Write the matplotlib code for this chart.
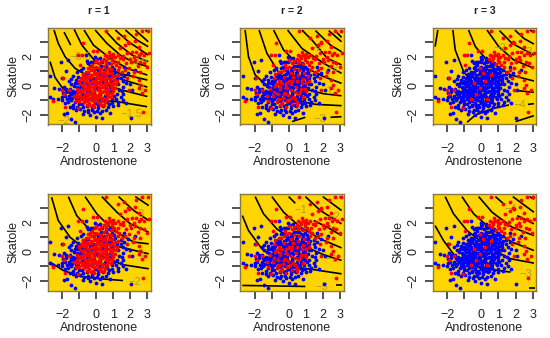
import matplotlib
matplotlib.use("Agg")
import matplotlib.pyplot as plt
import numpy as np

plt.rcParams["font.family"] = ["Liberation Sans", "DejaVu Sans"]

titles = ["r = 1", "r = 2", "r = 3"]
x_ticks = [-2, -1, 0, 1, 2, 3]
x_labels = ["\u22122", "", "0", "1", "2", "3"]
y_ticks = [-2, -1, 0, 1, 2, 3]
y_labels = ["\u22122", "", "0", "", "2", ""]

# always blue
blue_pts = [(-2.69, .67), (-2.06, 1.6), (-1.63, 1.77), (-1.79, 1.03), (-1.98, .55), (-2.45, -.18),
            (-2.7, -.8), (-2.53, -.94), (-2.25, -.94), (-2.2, -.25), (-1.98, -.76), (-1.82, -1.22),
            (-1.86, -1.95), (-1.69, -1.91), (-1.47, -2.3), (-1.24, -2.53), (-.8, -1.95), (-.35, -2.02),
            (0, -2.18), (.33, -2.25), (.82, -1.9), (2.04, -2.25), (1.75, -1.22), (2.1, -.3),
            (1.6, -.07), (-1.9, -.1), (-1.75, -.45), (-1.6, -.7), (-1.5, -1), (-1.35, -.35),
            (-1.7, -.95), (-1.95, -.5), (-1.55, -.2), (-1.4, -.85), (-1.25, -1.15), (-1.1, -1.45),
            (-1.2, -1.7), (-.95, -1.6), (-.7, -1.75), (-.45, -1.7), (-.15, -1.85), (.2, -1.9),
            (.55, -1.65), (1, -1.4), (1.3, -1.15), (1.45, -.75), (1.15, -.95), (1.5, -.4),
            (1.3, .1), (1.55, .35), (1.2, .55), (1.45, .8), (-1.25, .2), (-1.05, .6), (-1.35, .65),
            (-1.1, .95), (-.75, 1.25), (-.45, 1.55), (-.2, 1.65), (.05, 1.85), (.35, 1.6), (.6, 1.35),
            (.95, 1.3), (1.1, .95), (-1.6, .3), (-1.45, -.55), (-1.05, -.95), (-.85, -1.25),
            (-.55, -1.4), (-.25, -1.5), (.1, -1.55), (.4, -1.4), (.75, -1.25), (.9, -.95),
            (1.2, -.55), (-1.2, -.45), (-1, -.15), (-.85, .25), (-.65, .8), (2.3, 1.1), (1.85, .85),
            (-1.65, -1.1), (-1.5, -.45), (-1.3, -.05), (-1.45, .1), (-1.75, -.2), (-1.85, -.7),
            (-1.3, -.6), (-1.55, -.85), (-1.2, -.85), (-1.35, -1.3), (-1.0, -1.25), (-.75, -1.5),
            (-.5, -1.85), (-.25, -1.7), (.05, -1.75), (.35, -1.75), (.7, -1.5), (.95, -1.2),
            (1.25, -1.35), (1.55, -1.0), (1.35, -.3), (1.6, -.6), (1.45, .5), (1.65, .65),
            (1.05, 1.15), (.75, 1.55), (.25, 1.9), (-.05, 2.0), (-.55, 1.7), (-.9, 1.05),
            (-1.2, .4), (-1.45, .45), (-1.15, -.1), (-.6, 2.1), (-1.35, -1.55), (1.75, .2),
            (2.0, .1), (1.65, 1.3), (-2.0, -1.0), (-1.55, -1.45)]

# always red
red_pts = [(2.69, 3.79), (3.02, 3.79), (2.35, 3.6), (.59, 3.77), (1.65, 3.45), (1.25, 3.26),
           (-.75, 2.97), (1.9, 2.92), (1.7, 2.8), (1.37, 2.57), (2.49, 2.69), (3.08, 2.28),
           (2.82, 2.11), (2.1, 2.34), (2.2, 2), (1.8, 2.28), (.04, 2.41), (-.2, 2.39), (-.84, 2.11),
           (.82, 2.11), (.53, 2.11), (1.12, 1.95), (2.59, 1.66), (2.29, 1.77), (2.78, 1.54),
           (2.98, 1.31), (2.55, .97), (1.9, 1.2), (2.49, .39), (2.59, .05), (2.49, -.18),
           (2.69, -.53), (2.88, -.3), (1.9, -.3), (1.8, .5), (1.51, .97), (2.75, -1.79),
           (-2.55, -1.06), (-1.04, 2.11), (-.94, 1.43), (-1.92, .55), (.7, 1.9), (.95, 1.75),
           (1.3, 1.65), (.6, 1.7), (.85, 1.5), (1.15, 1.45), (1.55, 1.85), (1.6, 2.05), (2.35, 2.3),
           (.45, 1.85), (-.1, 1.2), (.2, .3), (-.3, -.6), (.35, -.9), (-.1, -.15), (.55, .75),
           (-.45, .15), (.1, .85), (-.6, -.95), (.75, 2.3), (1.0, 2.2), (.95, 2.0), (1.25, 2.1),
           (1.4, 1.9), (.65, 2.05), (1.05, 1.65), (1.35, 1.3), (1.75, 1.55), (2.05, 1.6), (2.0, 1.85),
           (2.5, 2.15), (2.65, 2.25), (2.45, 1.35), (2.2, .95), (2.15, .7), (1.7, 1.05),
           (-1.05, -1.55), (-1.8, -1.45), (-2.0, -.3), (-1.9, -.55), (-1.6, -.3), (1.85, 3.0), (2.25, 3.1)]

# red at r = 1 and r = 2, blue at r = 3
core_r12 = [(-.9, .55), (-.6, .35), (-.3, .6), (0, .35), (.25, .6), (.5, .3), (.8, .45), (1, .2),
            (-1.1, -.2), (-.8, -.05), (-.5, -.25), (-.2, -.1), (.1, -.3), (.4, -.1), (.7, -.2), (1, -.4),
            (-.95, -.7), (-.65, -.55), (-.35, -.85), (-.05, -.65), (.25, -.8), (.55, -.6), (.85, -.75),
            (-.7, -1.15), (-.4, -1.2), (-.1, -1.05), (.2, -1.25), (.5, -1.15), (-.3, 1.05), (0, 1.3),
            (.3, 1.15), (.6, 1.05), (.9, .85), (-.6, .95), (-.25, 1.45), (.15, 1.55), (-1.3, -.7),
            (-1.2, -1.05), (1.1, .65), (1.25, 1.05), (.75, .15), (-.15, .2), (-.7, .1), (.05, -.95),
            (-.45, .95), (-.8, .8), (.1, .15), (.35, -.45), (-.55, -.1), (-.25, -.5), (.65, -.45),
            (.95, -.2), (1.2, .3), (-.9, -.45), (.3, 1.7), (.55, 1.55), (.0, 1.75), (-.15, -1.45),
            (.45, -1.3), (-.55, -1.35)]

# red at r = 1 only
core_r1 = [(-.75, .75), (-.45, .5), (-.15, .8), (.15, .5), (.4, .85), (.65, .55), (.95, .6),
           (-.95, .1), (-.65, -.2), (-.35, -.05), (-.05, .05), (.25, -.15), (.55, 0), (.85, -.05),
           (1.1, -.15), (-1.05, -.45), (-.75, -.4), (-.45, -.5), (-.15, -.4), (.15, -.55), (.45, -.4),
           (.75, -.5), (-.85, -.9), (-.55, -.75), (-.25, -1), (.05, -.8), (.35, -1.05), (.65, -.95),
           (-.55, -1.05), (-.2, -1.3), (.1, -1.1), (-.45, 1.2), (-.1, 1), (.2, .95), (.45, 1.35),
           (.75, .85), (-.2, .35), (.05, .65), (-.55, .65), (.3, .1), (-.35, -.3), (.6, -.3),
           (-.9, -.3), (-.5, -.65), (-.15, -.75), (.2, -.35), (.4, .5), (-.05, 1.6), (-.35, 1.3),
           (.85, 1.15), (-.8, .4), (1.05, .4), (-.3, -1.4), (.3, -1.35), (-1.15, -.8),
           (-.3, .25), (.0, .5), (.3, .7), (.5, .1), (.15, -.1), (-.1, -.3), (-.4, -.15),
           (-.7, -.25), (-.25, -.7), (.1, -.7), (.4, -.85), (.7, -.7), (.95, -.6), (.95, .0),
           (1.15, .1), (1.25, .75), (.7, 1.25), (.3, .45), (-.05, .9), (-.3, .75), (-.65, .5),
           (-1.0, .3), (-1.1, -.6), (-.8, -.75), (-.65, -1.0), (-1.0, -1.05), (.15, 1.25), (.5, .95)]

# blue in every panel, sits under the red at r = 1
core_blue = [(-.6, .2), (-.25, .15), (.05, .2), (.35, .35), (.65, .2), (.9, .05), (-.4, -.4),
             (-.1, -.5), (.2, -.65), (.5, -.7), (.8, -.4), (-.7, -.7), (-.4, -.95), (-.05, -1.2),
             (.25, -1), (-.2, .5), (.1, 1.05), (.45, .65), (.7, .7), (-.5, .85), (-.15, -.25),
             (.1, -.1), (.4, .15), (.6, -.15), (-.3, 1.65), (.3, 1.35), (.8, -.1), (1.05, -.7),
             (1.05, .85), (.85, .3), (-.75, -.1), (-.5, .1), (.0, -.15), (.25, .25), (-.25, -.95),
             (.1, -1.35), (.55, -.95), (-.9, .0), (-1.05, .15), (-.7, .65), (-.35, .4), (.2, .75),
             (.6, .4), (.85, .65), (.45, 1.1), (-.15, 1.15), (.8, 1.0), (.65, -1.1), (-.85, -.55), (-.55, -.45)]

# contour curves per panel, (row, column) order
curves_00 = [[(-2.7, 1.66), (-2.41, .57), (-1.92, -.25), (-1.24, -.76), (-.35, -1), (1.22, -1.1), (2.98, -1.45)],
             [(-2.47, 3.84), (-2.22, 2.92), (-1.82, 2), (-1.24, 1.2), (0, .3), (1.5, -.3), (3.0, -.75)],
             [(-1.88, 3.7), (-1.49, 2.8)],
             [(-.55, 1.54), (.3, .9), (1.6, .4), (3, -.1)],
             [(-1.29, 3.89), (-.84, 2.8), (.04, 1.55), (1.02, .96), (1.8, .73), (3.0, .39)],
             [(-.71, 3.84), (-.16, 2.8), (.82, 1.89), (1.8, 1.2), (3.0, .73)],
             [(-.06, 3.84), (.63, 2.92), (1.41, 2.11), (2.2, 1.6), (3.05, 1.31)],
             [(.53, 3.8), (1.22, 2.92), (2.1, 2.11), (3.05, 1.66)],
             [(1.12, 3.84), (1.9, 3.03), (3.05, 2.11)],
             [(1.71, 3.84), (2.39, 3.15), (3.05, 2.69)],
             [(2.29, 3.84), (3.05, 3.03)],
             [(2.88, 3.84), (3.05, 3.68)]]
curves_01 = [[(-2.57, 3.84), (-2.37, 2), (-1.98, .74), (-1.2, -.1), (0, -.9), (1.55, -1.29), (3.08, -1.38)],
             [(-1.75, 3.84), (-1.29, 2.23), (-.51, .74), (.8, -.2), (2.0, -.55), (3.08, -.7)],
             [(-.9, 3.84), (-.31, 2.46), (.47, 1.54), (2.04, .62), (3.08, .16)],
             [(-.08, 3.84), (.76, 2.57), (2.04, 1.54), (3.08, .85)],
             [(.76, 3.84), (1.35, 3.15), (2.24, 1.89), (3.08, 1.43)],
             [(1.55, 3.8), (2.43, 2.8), (3.08, 2.34)],
             [(2.33, 3.8), (3.08, 3.03)],
             [(2.67, 3.84), (3.08, 3.33)],
             [(.18, -2.48), (.96, -2.18)],
             [(2.43, -2.18), (3.08, -2.14)]]
curves_02 = [[(-2.55, 3.84), (-2.71, 2.69)],
             [(-1.67, 3.84), (-1.53, 2.46), (-1.04, .97), (0, -.5)],
             [(-.75, 3.84), (-.35, 2.69), (.33, 1.77), (1.71, .74), (3.08, .32)],
             [(.33, 3.84), (1.02, 2.69), (1.9, 1.77), (3.08, 1.2)],
             [(1.06, 3.8), (1.8, 2.92), (3.08, 2.11)],
             [(1.96, 3.84), (2.49, 3.26), (3.08, 2.87)],
             [(2.84, 3.84), (3.08, 3.68)],
             [(2.1, -.34), (3.08, -.46)],
             [(2.73, -1.29), (3.08, -1.24)],
             [(-.84, -2.53), (-.35, -2.02), (.73, -1.56), (1.61, -1.33)],
             [(2, -2.48), (3.08, -2.07)]]
curves_10 = [[(-2.71, -.72), (-1.92, -1.3), (-.94, -1.71), (.24, -1.87), (1.57, -1.99)],
             [(-2.61, 3.76), (-2.22, 2.15), (-1.53, 1), (-.55, .08), (.6, -.4), (1.51, -.89), (3.08, -1.18)],
             [(-1.63, 3.8), (-1.14, 2.49), (-.35, 1.46), (1.02, .43), (3.08, -.15)],
             [(-.65, 3.8), (.04, 2.61), (1.02, 1.46), (2.2, .66), (3.08, .54)],
             [(.33, 3.8), (1.22, 2.72), (2, 1.92), (3.08, 1.34)],
             [(1.31, 3.8), (2.2, 2.84), (3.08, 2.15)],
             [(2.29, 3.8), (3.08, 3.18)]]
curves_11 = [[(-2.73, -2.33), (.96, -2.4)],
             [(2.76, -2.33), (3.08, -2.33)],
             [(-2.73, 2.49), (-2.37, 1.46), (-1.59, .2), (-.5, -.7), (.6, -1.1), (1.51, -1.25), (3.08, -1.53)],
             [(-1.98, 3.8), (-1.49, 2.61), (-.71, 1.57), (.37, .66), (2.0, -.2), (3.08, -.6)],
             [(-1, 3.8), (-.31, 2.72), (.67, 1.69), (1.84, .88), (3.08, .26)],
             [(-.02, 3.8), (.37, 3.34)],
             [(1.45, 2.15), (2.24, 1.69), (3.08, 1.11)],
             [(.96, 3.8), (1.84, 2.84), (3.08, 1.92)],
             [(1.98, 3.8), (3.08, 2.84)],
             [(2.96, 3.8), (3.08, 3.71)]]
curves_12 = [[(-2.71, 1.8), (-2.22, .77), (-1.43, -.49), (-.5, -1), (.53, -1.23), (1.71, -1.41)],
             [(-2.12, 3.8), (-1.63, 2.61), (-.84, 1.46), (.4, .3), (1.71, -.49), (3.08, -.79)],
             [(-1.14, 3.8), (-.45, 2.61), (.43, 1.69), (1.8, .66), (3.08, .08)],
             [(-.16, 3.8), (.63, 2.72), (1.8, 1.69), (3.08, 1.11)],
             [(.82, 3.8), (1.27, 3.34)],
             [(2.1, 2.49), (3.08, 1.92)],
             [(1.84, 3.8), (3.08, 2.72)],
             [(2.82, 3.8), (3.08, 3.62)],
             [(2.78, -2.5), (3.12, -2.5)]]

# contour labels: text, x, y
labels_00 = [("\u22120.5", -.94, 2.0), ("0.5", 2.59, 1.7), ("0", 2.59, -.14), ("\u22121.5", 2.04, -1.98), ("\u22122", -1.92, -2.41)]
labels_01 = [("\u22122", 1.65, 2.62), ("\u22122", 2.59, 1.2), ("\u22121", 2.24, -.34), ("\u22123", 1.8, -2.32)]
labels_02 = [("\u22122", 1.08, 2.62), ("\u22123", 2.65, 2.34), ("\u22124", 2.25, -1.36)]
labels_10 = [("3", 2.59, 2.6), ("0", 2.59, -.15), ("\u22122", 2.29, -2.1)]
labels_11 = [("\u22121", .67, 2.88), ("\u22122", 2.63, 2.38), ("\u22121", 2.53, -.49), ("\u22123", 1.94, -2.45)]
labels_12 = [("\u22124", 1.71, 2.95), ("\u22123", 2.59, -1.57)]

all_curves = [[curves_00, curves_01, curves_02], [curves_10, curves_11, curves_12]]
all_labels = [[labels_00, labels_01, labels_02], [labels_10, labels_11, labels_12]]

W, H = 550, 338
lefts = [47.5, 240.3, 432.7]
tops = [28, 194]
PW, PH = 103.3, 96.5


def draw_panel(ax, col, curves, labels):
    ax.set_facecolor("#FFD500")
    for c in curves:
        arr = np.array(c)
        ax.plot(arr[:, 0], arr[:, 1], color="black", lw=1.2, zorder=2, solid_capstyle="butt")
    for txt, x, y in labels:
        ax.text(x, y, txt, color="#B59A2E", fontsize=8, ha="center", va="center", zorder=2)

    blue = list(blue_pts) + list(core_blue)
    red = list(red_pts)
    if col == 0:
        red = red + core_r12 + core_r1
    elif col == 1:
        red = red + core_r12
        blue = blue + core_r1
    else:
        blue = blue + core_r12 + core_r1
    b, r = np.array(blue), np.array(red)
    ax.scatter(b[:, 0], b[:, 1], s=7.5, color="#0000FF", linewidths=0, zorder=3)
    ax.scatter(r[:, 0], r[:, 1], s=7.5, color="#FF0000", linewidths=0, zorder=4)

    ax.set_xlim(-2.85, 3.2)
    ax.set_ylim(-2.68, 3.98)
    ax.set_xticks(x_ticks, x_labels)
    ax.set_yticks(y_ticks, y_labels)
    ax.tick_params(axis="x", length=6, width=1.1, pad=7.5, labelsize=9, color="#222222", labelcolor="#222222")
    ax.tick_params(axis="y", length=6, width=1.1, pad=3.5, labelsize=9, color="#222222", labelcolor="#222222")
    for lab in ax.get_yticklabels():
        lab.set_rotation(90)
        lab.set_va("center")
    ax.set_xlabel("Androstenone", fontsize=9, color="#222222", labelpad=0.5)
    ax.set_ylabel("Skatole", fontsize=9, color="#222222", labelpad=2)
    for s in ax.spines.values():
        s.set_color("#8A7B3C")
        s.set_linewidth(1)


fig = plt.figure(figsize=(W / 100, H / 100), dpi=100)
for row in range(2):
    for col in range(3):
        ax = fig.add_axes([lefts[col] / W, 1 - (tops[row] + PH) / H, PW / W, PH / H])
        draw_panel(ax, col, all_curves[row][col], all_labels[row][col])
        if row == 0:
            ax.set_title(titles[col], fontsize=7.5, fontweight="bold", pad=10, color="#222222")

fig.savefig("out.png", dpi=100)
